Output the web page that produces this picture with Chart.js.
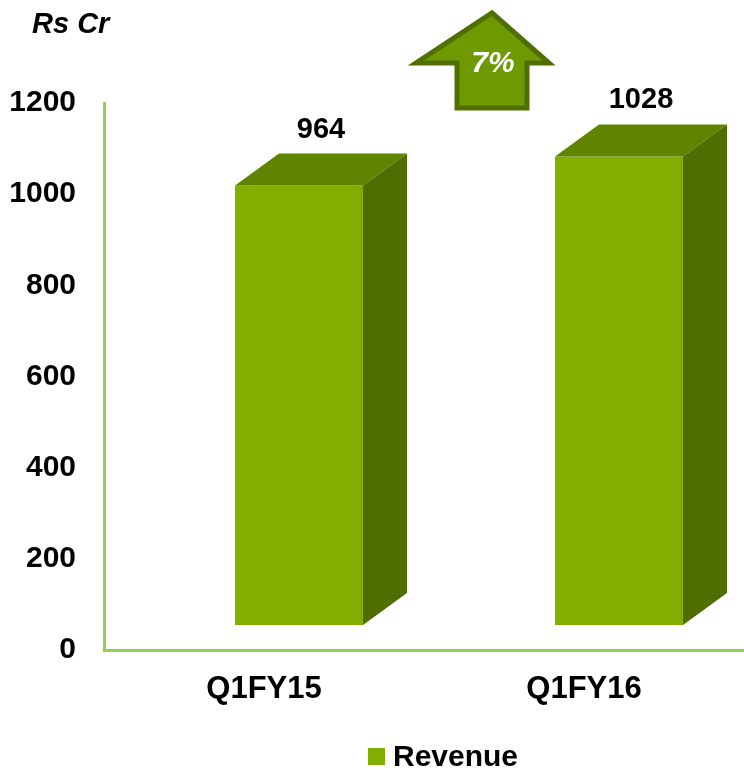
<!DOCTYPE html>
<html>
<head>
<meta charset="utf-8">
<script src="https://cdn.jsdelivr.net/npm/chart.js@4.4.1/dist/chart.umd.min.js"></script>
<style>
  html, body { margin: 0; padding: 0; background: #fff; }
  #wrap { width: 744px; height: 771px; }
</style>
</head>
<body>
<div id="wrap"><canvas id="grafico"></canvas></div>
<script>
// data
const quarters = ['Q1FY15', 'Q1FY16'];
const revenue = [964, 1028];
const seriesName = 'Revenue';
const unitLabel = 'Rs Cr';
const growthText = '7%';

const fontFam = '"Liberation Sans", Arial, sans-serif';
const frontColor = '#82AE00';
const topColor = '#5F8500';
const sideColor = '#4F6D00';
const axisColor = '#92D050';

// fake 3D: front face is pushed right/down, depth goes up-right
const shift = { x: 35, y: -25 };
const depth = { x: 44, y: -32 };

const bars3d = {
    id: 'bars3d',
    beforeDatasetsDraw(chart) {
        chart.ctx.save();
        chart.ctx.translate(shift.x, shift.y);
    },
    afterDatasetsDraw(chart) {
        const ctx = chart.ctx;
        const meta = chart.getDatasetMeta(0);
        meta.data.forEach((bar, i) => {
            const p = bar.getProps(['x', 'y', 'base', 'width'], true);
            const l = p.x - p.width / 2, r = p.x + p.width / 2;
            // top
            ctx.fillStyle = topColor;
            ctx.beginPath();
            ctx.moveTo(l, p.y);
            ctx.lineTo(r, p.y);
            ctx.lineTo(r + depth.x, p.y + depth.y);
            ctx.lineTo(l + depth.x, p.y + depth.y);
            ctx.closePath();
            ctx.fill();
            // side
            ctx.fillStyle = sideColor;
            ctx.beginPath();
            ctx.moveTo(r, p.y);
            ctx.lineTo(r + depth.x, p.y + depth.y);
            ctx.lineTo(r + depth.x, p.base + depth.y);
            ctx.lineTo(r, p.base);
            ctx.closePath();
            ctx.fill();
            // value label
            ctx.fillStyle = '#000';
            ctx.font = 'bold 29px ' + fontFam;
            ctx.textAlign = 'center';
            ctx.textBaseline = 'alphabetic';
            ctx.fillText(String(revenue[i]), p.x + depth.x / 2, p.y + depth.y - 16);
        });
        ctx.restore();
    },
    afterDraw(chart) {
        const ctx = chart.ctx;
        ctx.save();
        // unit
        ctx.fillStyle = '#000';
        ctx.font = 'italic bold 29px ' + fontFam;
        ctx.textAlign = 'left';
        ctx.textBaseline = 'alphabetic';
        ctx.fillText(unitLabel, 32, 33);

        // growth arrow
        ctx.beginPath();
        ctx.moveTo(492, 13);
        ctx.lineTo(549, 63);
        ctx.lineTo(527, 63);
        ctx.lineTo(527, 108);
        ctx.lineTo(457, 108);
        ctx.lineTo(457, 63);
        ctx.lineTo(416, 63);
        ctx.closePath();
        ctx.fillStyle = '#6E9900';
        ctx.fill();
        ctx.lineWidth = 5;
        ctx.lineJoin = 'miter';
        ctx.strokeStyle = '#4F7000';
        ctx.stroke();
        ctx.fillStyle = '#fff';
        ctx.font = 'italic bold 30px ' + fontFam;
        ctx.textAlign = 'center';
        ctx.textBaseline = 'middle';
        ctx.fillText(growthText, 493, 64);

        // legend
        const ds = chart.data.datasets[0];
        ctx.fillStyle = ds.backgroundColor;
        ctx.fillRect(368, 748, 17, 17);
        ctx.fillStyle = '#000';
        ctx.font = 'bold 30px ' + fontFam;
        ctx.textAlign = 'left';
        ctx.textBaseline = 'alphabetic';
        ctx.fillText(ds.label, 393, 766);
        ctx.restore();
    }
};

const data = {
    labels: quarters,
    datasets: [{
        label: seriesName,
        data: revenue,
        backgroundColor: frontColor,
        borderWidth: 0,
        barPercentage: 0.4,
        categoryPercentage: 1.0,
        clip: false
    }]
};

const config = {
    type: 'bar',
    data: data,
    options: {
        responsive: true,
        maintainAspectRatio: false,
        animation: false,
        layout: { padding: { top: 103, left: 0, right: 0, bottom: 60 } },
        plugins: {
            legend: { display: false },
            tooltip: { enabled: false }
        },
        scales: {
            x: {
                grid: { display: false, drawTicks: false },
                border: { display: true, color: axisColor, width: 3 },
                ticks: {
                    color: '#000',
                    padding: 21,
                    font: { family: fontFam, size: 31, weight: 'bold' }
                },
                afterFit(s) { s.height = 61; }
            },
            y: {
                min: 0,
                max: 1200,
                ticks: {
                    stepSize: 200,
                    color: '#000',
                    padding: 28,
                    font: { family: fontFam, size: 30, weight: 'bold' },
                    callback: v => String(v)
                },
                grid: { display: false, drawTicks: false },
                border: { display: true, color: axisColor, width: 3 },
                afterFit(s) { s.width = 104; }
            }
        }
    },
    plugins: [bars3d]
};

const myChart = new Chart(document.getElementById('grafico'), config);
</script>
</body>
</html>
